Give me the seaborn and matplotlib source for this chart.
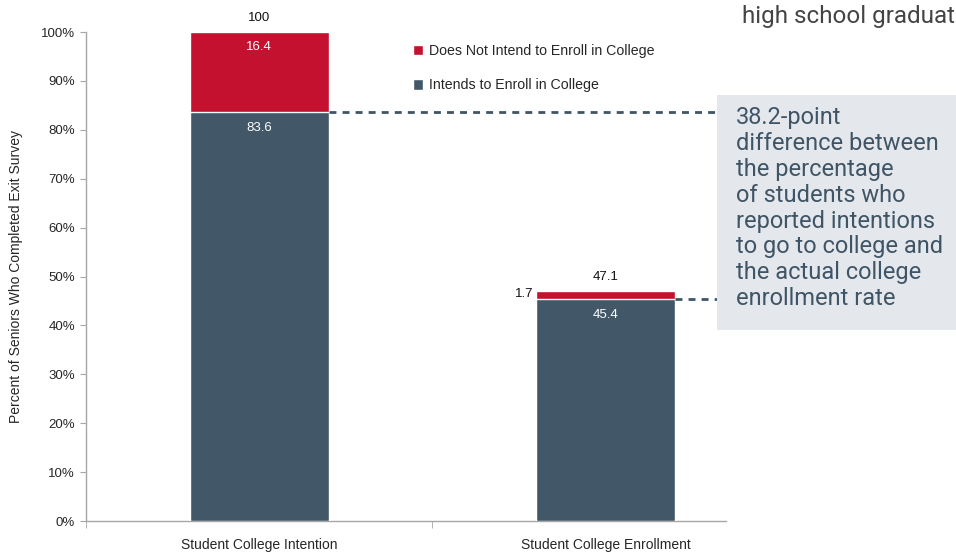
import matplotlib
matplotlib.use("Agg")
import matplotlib.pyplot as plt
import seaborn as sns
import pandas as pd
from matplotlib.patches import Rectangle, Patch

# Данные с картинки
categories = ["Student College Intention", "Student College Enrollment"]
intends = [83.6, 45.4]
not_intend = [16.4, 1.7]
totals = [100, 47.1]

RED = "#c3112f"
SLATE = "#425868"
TEXT_BLUE = "#3f5566"

sns.set_style("white")
plt.rcParams["font.family"] = ["Liberation Sans", "DejaVu Sans"]

df = pd.DataFrame({
    "category": categories,
    "intends": intends,
    "stack_top": [a + b for a, b in zip(intends, not_intend)],
})

fig = plt.figure(figsize=(9.56, 5.52), dpi=100)
ax = fig.add_axes([0.09, 0.056, 0.669, 0.886])

# Сначала верхняя (красная) часть как полный столбец, затем нижняя поверх
sns.barplot(data=df, x="category", y="stack_top", color=RED, width=0.4,
            saturation=1, ax=ax, zorder=2)
sns.barplot(data=df, x="category", y="intends", color=SLATE, width=0.4,
            saturation=1, ax=ax, zorder=3)

ax.set_xlim(-0.5, 1.346)
ax.set_ylim(0, 100)
ax.set_yticks(range(0, 101, 10))
ax.set_yticklabels([f"{v}%" for v in range(0, 101, 10)], fontsize=9.5)
ax.set_xlabel("")
ax.set_ylabel("Percent of Seniors Who Completed Exit Survey", fontsize=10)
ax.yaxis.set_label_coords(-0.098, 0.5)

ax.tick_params(axis="y", length=4, color="#a6a6a6", pad=4, direction="out", left=True)
ax.tick_params(axis="x", which="major", length=0, pad=12, labelsize=10)
ax.set_xticks([-0.5, 0.5], minor=True)
ax.tick_params(axis="x", which="minor", length=5, color="#a6a6a6", bottom=True)

for side in ["top", "right"]:
    ax.spines[side].set_visible(False)
for side in ["left", "bottom"]:
    ax.spines[side].set_color("#a6a6a6")
    ax.spines[side].set_linewidth(1)

# Подписи значений
for i in range(len(categories)):
    top = intends[i] + not_intend[i]
    ax.text(i, top + 1.6, f"{totals[i]:g}", ha="center", va="bottom", fontsize=9.5, color="#111111")
    ax.text(i, intends[i] - 3.2, f"{intends[i]:g}", ha="center", va="center", fontsize=9.5, color="white", zorder=5)
ax.text(0, totals[0] - 3.1, f"{not_intend[0]:g}", ha="center", va="center", fontsize=9.5, color="white", zorder=5)
ax.text(1 - 0.21, intends[1] + not_intend[1] / 2 + 0.2, f"{not_intend[1]:g}", ha="right", va="center",
        fontsize=9.5, color="#111111")

# Пунктирные линии к выноске
for i in range(len(categories)):
    ax.plot([i + 0.2, 1.32], [intends[i], intends[i]], ls=(0, (2.5, 2.2)), lw=2,
            color=TEXT_BLUE, zorder=4, clip_on=False)

# Легенда
handles = [Patch(facecolor=RED, label="Does Not Intend to Enroll in College"),
           Patch(facecolor=SLATE, label="Intends to Enroll in College")]
fig.legend(handles=handles, loc="upper left", bbox_to_anchor=(400 / 956, 1 - 31 / 552),
           frameon=False, handlelength=0.75, handleheight=0.75, handletextpad=0.4,
           labelspacing=1.45, fontsize=10.2)

# Серая выноска
box = Rectangle((717 / 956, 1 - 330 / 552), 0.26, (330 - 95) / 552,
                transform=fig.transFigure, facecolor="#e4e7ec", edgecolor="none", zorder=10)
fig.add_artist(box)
fig.text(736 / 956, 1 - 106 / 552,
         "38.2-point\ndifference between\nthe percentage\nof students who\nreported intentions\n"
         "to go to college and\nthe actual college\nenrollment rate",
         ha="left", va="top", fontsize=17, color=TEXT_BLUE, family=["Roboto", "DejaVu Sans"],
         linespacing=1.16, zorder=11)

# Обрезанный текст сверху справа (в оригинале тоже обрезан краем)
fig.text(742 / 956, 1 - 17 / 552, "high school graduates", ha="left", va="center",
         fontsize=17.5, color="#444444", family=["Roboto", "DejaVu Sans"], zorder=11)

fig.savefig("out.png", dpi=100)
